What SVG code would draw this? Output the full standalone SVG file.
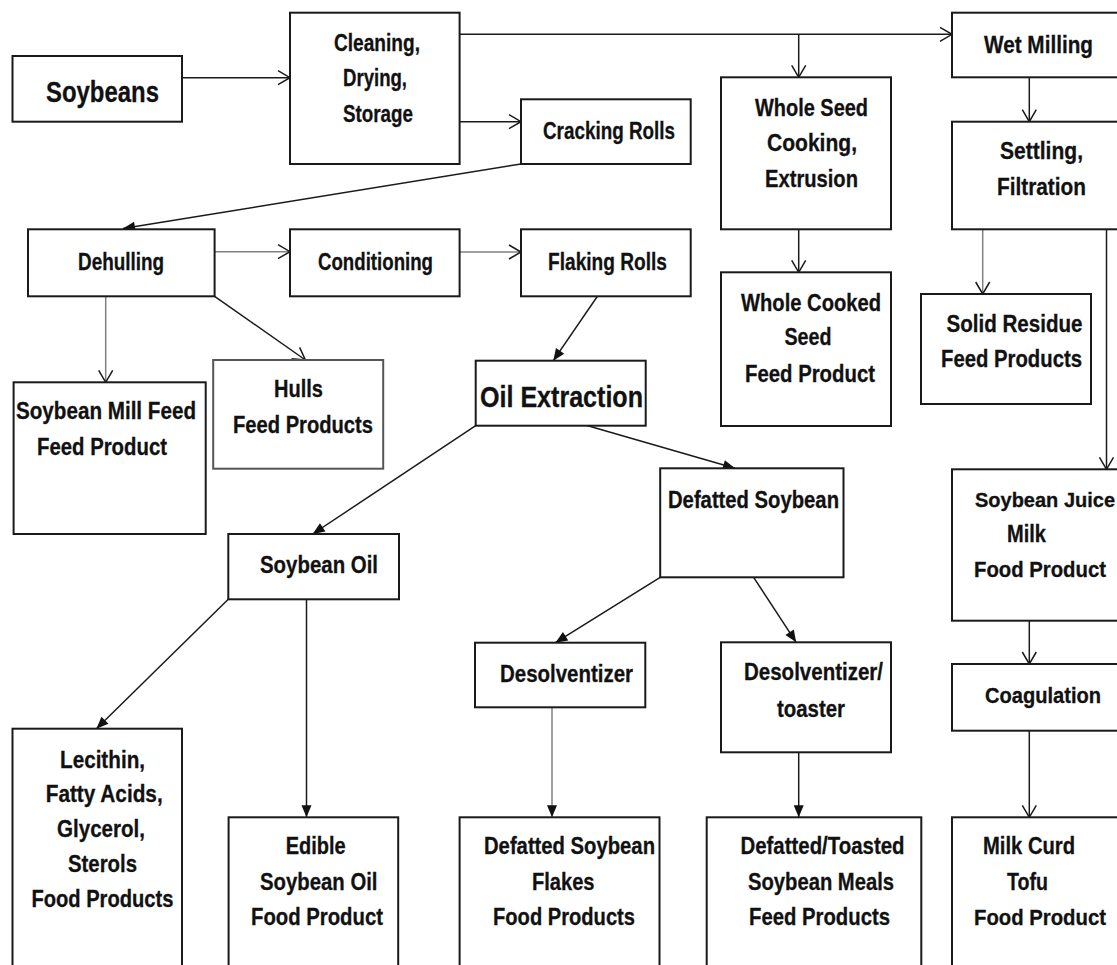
<svg xmlns="http://www.w3.org/2000/svg" width="1117" height="965" viewBox="0 0 1117 965">
<style>
.box{fill:#fff;stroke:#1a1a1a;stroke-width:2}
.t{font-family:"Liberation Sans",Arial,sans-serif;font-weight:bold;font-size:24px;fill:#111;stroke:#111;stroke-width:0.3}
.big{font-size:30px}
.s22{font-size:22px}
.s20{font-size:20px}
.c{fill:none;stroke:#1a1a1a;stroke-width:1.5}
.g{stroke:#808080}
.o{marker-end:url(#open)}
.f{marker-end:url(#fill)}
</style>
<defs>
<marker id="open" markerUnits="userSpaceOnUse" viewBox="-14 -10 16 20" refX="0" refY="0" markerWidth="16" markerHeight="20" orient="auto">
<path d="M-12,-7 L0,0 L-12,7" fill="none" stroke="#1a1a1a" stroke-width="1.5"/>
</marker>
<marker id="fill" markerUnits="userSpaceOnUse" viewBox="-14 -8 16 16" refX="0" refY="0" markerWidth="16" markerHeight="16" orient="auto">
<path d="M-12,-5 L0,0 L-12,5 Z" fill="#111"/>
</marker>
</defs>
<rect width="1117" height="965" fill="#fff"/>
<g id="connectors">
<path class="c o" d="M182,77.7 H290"/>
<path class="c o" d="M460,121.7 H521"/>
<path class="c o" d="M460,34.3 H952"/>
<path class="c o" d="M798.7,34.3 V77.3"/>
<path class="c o" d="M1029.3,77.3 V121.7"/>
<path class="c g o" d="M214.6,251.7 H290"/>
<path class="c g o" d="M459.6,252 H521"/>
<path class="c g o" d="M105.7,296.3 V382.3"/>
<path class="c o" d="M214.6,296.3 L305.4,360"/>
<path class="c o" d="M798.7,229.3 V272.3"/>
<path class="c g o" d="M982.7,229.3 V294"/>
<path class="c o" d="M1106.5,229.3 V469.3"/>
<path class="c o" d="M1029.3,620.7 V664"/>
<path class="c o" d="M1029.3,730.7 V817.3"/>
<path class="c f" d="M521,164 L123,228.5"/>
<path class="c f" d="M598.3,295 L553.3,360.7"/>
<path class="c f" d="M475.7,425.7 L312.7,534"/>
<path class="c f" d="M581.7,424 L735,468.3"/>
<path class="c f" d="M228.3,599.3 L96.4,728.7"/>
<path class="c f" d="M306.5,599.3 V817.3"/>
<path class="c f" d="M660.2,577.3 L555.4,642.7"/>
<path class="c f" d="M753.6,577.3 L796.2,642.3"/>
<path class="c g f" d="M552,707.3 V817.3"/>
<path class="c f" d="M798.7,752.3 V817.3"/>
</g>
<g id="soybeans"><rect class="box" x="12.5" y="56" width="169.5" height="65.7"/>
<text class="t big" x="46" y="101.7" textLength="113" lengthAdjust="spacingAndGlyphs">Soybeans</text></g>
<g id="cleaning"><rect class="box" x="290" y="12.7" width="169.6" height="151.3"/>
<text class="t" x="334" y="50.5" textLength="86" lengthAdjust="spacingAndGlyphs">Cleaning,</text>
<text class="t" x="343" y="86" textLength="64" lengthAdjust="spacingAndGlyphs">Drying,</text>
<text class="t" x="343" y="122" textLength="70" lengthAdjust="spacingAndGlyphs">Storage</text></g>
<g id="cracking"><rect class="box" x="521" y="99.3" width="169.7" height="64.7"/>
<text class="t" x="543" y="139.3" textLength="132" lengthAdjust="spacingAndGlyphs">Cracking Rolls</text></g>
<g id="wetmilling"><rect class="box" x="952" y="12.7" width="166" height="64.6"/>
<text class="t" x="984" y="53.3" textLength="109" lengthAdjust="spacingAndGlyphs">Wet Milling</text></g>
<g id="wholeseed"><rect class="box" x="721" y="77.3" width="170" height="152"/>
<text class="t" x="755" y="115.5" textLength="113" lengthAdjust="spacingAndGlyphs">Whole Seed</text>
<text class="t" x="767" y="151" textLength="90" lengthAdjust="spacingAndGlyphs">Cooking,</text>
<text class="t" x="765" y="187" textLength="93" lengthAdjust="spacingAndGlyphs">Extrusion</text></g>
<g id="settling"><rect class="box" x="952" y="121.7" width="166" height="107.6"/>
<text class="t" x="1000" y="158.5" textLength="83" lengthAdjust="spacingAndGlyphs">Settling,</text>
<text class="t" x="997" y="195" textLength="89" lengthAdjust="spacingAndGlyphs">Filtration</text></g>
<g id="dehulling"><rect class="box" x="28" y="229.3" width="186.6" height="67"/>
<text class="t" x="78" y="270" textLength="86" lengthAdjust="spacingAndGlyphs">Dehulling</text></g>
<g id="conditioning"><rect class="box" x="290" y="229.3" width="169.6" height="67"/>
<text class="t" x="318" y="269.5" textLength="115" lengthAdjust="spacingAndGlyphs">Conditioning</text></g>
<g id="flaking"><rect class="box" x="521" y="229.3" width="169.7" height="67"/>
<text class="t" x="548" y="270" textLength="119" lengthAdjust="spacingAndGlyphs">Flaking Rolls</text></g>
<g id="millfeed"><rect class="box" x="13.6" y="382.3" width="192.1" height="151.7"/>
<text class="t" x="16" y="419.3" textLength="180" lengthAdjust="spacingAndGlyphs">Soybean Mill Feed</text>
<text class="t" x="37" y="455" textLength="130" lengthAdjust="spacingAndGlyphs">Feed Product</text></g>
<g id="hulls"><rect class="box" x="213.2" y="360" width="170" height="108.7" style="stroke:#555"/>
<text class="t" x="274" y="396.7" textLength="49" lengthAdjust="spacingAndGlyphs">Hulls</text>
<text class="t" x="233" y="433.3" textLength="140" lengthAdjust="spacingAndGlyphs">Feed Products</text></g>
<g id="oilextraction"><rect class="box" x="475.7" y="360.7" width="170" height="65"/>
<text class="t big" x="480" y="406.7" textLength="163" lengthAdjust="spacingAndGlyphs">Oil Extraction</text></g>
<g id="wholecooked"><rect class="box" x="721" y="272.3" width="170" height="153.7"/>
<text class="t" x="741" y="310.7" textLength="140" lengthAdjust="spacingAndGlyphs">Whole Cooked</text>
<text class="t" x="784.5" y="345" textLength="47" lengthAdjust="spacingAndGlyphs">Seed</text>
<text class="t" x="745" y="381.7" textLength="130" lengthAdjust="spacingAndGlyphs">Feed Product</text></g>
<g id="solidresidue"><rect class="box" x="921" y="294" width="170" height="110"/>
<text class="t" x="946.5" y="331.7" textLength="136" lengthAdjust="spacingAndGlyphs">Solid Residue</text>
<text class="t" x="941" y="366.7" textLength="141" lengthAdjust="spacingAndGlyphs">Feed Products</text></g>
<g id="defatted"><rect class="box" x="660.2" y="468.3" width="183.3" height="109"/>
<text class="t" x="668" y="508.3" textLength="171" lengthAdjust="spacingAndGlyphs">Defatted Soybean</text></g>
<g id="soybeanoil"><rect class="box" x="228.3" y="534" width="170.7" height="65.3"/>
<text class="t" x="260" y="573.3" textLength="118" lengthAdjust="spacingAndGlyphs">Soybean Oil</text></g>
<g id="juice"><rect class="box" x="952" y="469.3" width="166" height="151.4"/>
<text class="t s20" x="975" y="506.7" textLength="140" lengthAdjust="spacingAndGlyphs">Soybean Juice</text>
<text class="t" x="1007" y="541.7" textLength="39" lengthAdjust="spacingAndGlyphs">Milk</text>
<text class="t s22" x="974" y="577.3" textLength="132" lengthAdjust="spacingAndGlyphs">Food Product</text></g>
<g id="desolventizer"><rect class="box" x="475" y="642.7" width="170.3" height="64.6"/>
<text class="t" x="500" y="681.7" textLength="133" lengthAdjust="spacingAndGlyphs">Desolventizer</text></g>
<g id="toaster"><rect class="box" x="721" y="642.3" width="170" height="110"/>
<text class="t" x="744" y="680" textLength="139" lengthAdjust="spacingAndGlyphs">Desolventizer/</text>
<text class="t" x="777" y="716.7" textLength="68" lengthAdjust="spacingAndGlyphs">toaster</text></g>
<g id="coagulation"><rect class="box" x="952" y="664" width="166" height="66.7"/>
<text class="t s22" x="985" y="703.3" textLength="116" lengthAdjust="spacingAndGlyphs">Coagulation</text></g>
<g id="lecithin"><rect class="box" x="12.5" y="728.7" width="169.5" height="238"/>
<text class="t" x="60" y="767.5" textLength="85" lengthAdjust="spacingAndGlyphs">Lecithin,</text>
<text class="t" x="45.7" y="802.3" textLength="117" lengthAdjust="spacingAndGlyphs">Fatty Acids,</text>
<text class="t" x="57" y="837" textLength="88" lengthAdjust="spacingAndGlyphs">Glycerol,</text>
<text class="t" x="68" y="871.5" textLength="69" lengthAdjust="spacingAndGlyphs">Sterols</text>
<text class="t" x="31.4" y="907.3" textLength="142" lengthAdjust="spacingAndGlyphs">Food Products</text></g>
<g id="edible"><rect class="box" x="228.6" y="817.3" width="169.6" height="149"/>
<text class="t" x="285.7" y="854" textLength="60" lengthAdjust="spacingAndGlyphs">Edible</text>
<text class="t" x="260" y="890" textLength="117.5" lengthAdjust="spacingAndGlyphs">Soybean Oil</text>
<text class="t" x="251" y="925" textLength="132" lengthAdjust="spacingAndGlyphs">Food Product</text></g>
<g id="flakes"><rect class="box" x="459.6" y="817.3" width="199.9" height="149"/>
<text class="t" x="484" y="854" textLength="171" lengthAdjust="spacingAndGlyphs">Defatted Soybean</text>
<text class="t" x="532" y="890" textLength="62.5" lengthAdjust="spacingAndGlyphs">Flakes</text>
<text class="t" x="493" y="925" textLength="142" lengthAdjust="spacingAndGlyphs">Food Products</text></g>
<g id="meals"><rect class="box" x="706.7" y="817.3" width="214.6" height="149"/>
<text class="t" x="740.5" y="854" textLength="164" lengthAdjust="spacingAndGlyphs">Defatted/Toasted</text>
<text class="t" x="748" y="890" textLength="146" lengthAdjust="spacingAndGlyphs">Soybean Meals</text>
<text class="t" x="749" y="925" textLength="141" lengthAdjust="spacingAndGlyphs">Feed Products</text></g>
<g id="milkcurd"><rect class="box" x="952" y="817.3" width="166" height="149"/>
<text class="t" x="983" y="854" textLength="92" lengthAdjust="spacingAndGlyphs">Milk Curd</text>
<text class="t" x="1007" y="890" textLength="41" lengthAdjust="spacingAndGlyphs">Tofu</text>
<text class="t s22" x="974" y="925" textLength="132" lengthAdjust="spacingAndGlyphs">Food Product</text></g>
</svg>
